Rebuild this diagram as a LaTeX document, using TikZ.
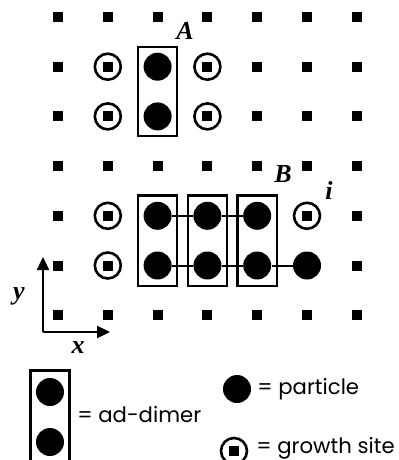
\documentclass[tikz,border=0pt]{standalone}
\usepackage{fontspec}
\setmainfont{Liberation Serif}
\newfontfamily\legendfont{Poppins}
\usetikzlibrary{arrows.meta,positioning,fit}

\begin{document}
\begin{tikzpicture}[
    x=0.5pt, y=-0.5pt,
    site/.style={rectangle, fill=black, minimum size=5pt, inner sep=0pt},
    particle/.style={circle, fill=black, minimum size=14pt, inner sep=0pt},
    growth/.style={circle, draw, line width=1.3pt, minimum size=13pt, inner sep=0pt},
    dimer/.style={rectangle, draw, line width=1.2pt, inner xsep=2.6pt, inner ysep=3pt},
    bond/.style={line width=1pt},
    axis/.style={line width=1.2pt, -{Triangle[length=6.5pt,width=6pt]}},
    letter/.style={font=\fontsize{13}{14}\selectfont\bfseries\itshape},
    legend/.style={font=\legendfont\fontsize{10.6}{12}\selectfont, inner sep=0pt}
]
\useasboundingbox (0,0) rectangle (399,460);

% lattice sites
\foreach \c in {0,...,6}
  \foreach \r in {0,...,6}
    \node[site] (s-\c-\r) at ({58+49.8*\c},{17+49.7*\r}) {};

% growth sites
\foreach \c/\r in {1/1,1/2,3/1,3/2,1/4,1/5,5/4}
  \node[growth] (g-\c-\r) at (s-\c-\r) {};

% particles
\foreach \c/\r in {2/1,2/2,2/4,3/4,4/4,2/5,3/5,4/5,5/5}
  \node[particle] (p-\c-\r) at (s-\c-\r) {};

% bonds
\draw[bond] (p-2-4) -- (p-3-4) -- (p-4-4);
\draw[bond] (p-2-5) -- (p-3-5) -- (p-4-5) -- (p-5-5);

% ad-dimers
\node[dimer, inner ysep=2.5pt, fit=(p-2-1)(p-2-2)] (dA) {};
\node[dimer, fit=(p-2-4)(p-2-5)] (dB1) {};
\node[dimer, fit=(p-3-4)(p-3-5)] (dB2) {};
\node[dimer, fit=(p-4-4)(p-4-5)] (dB3) {};

\node[letter] (lA) at (185,31) {A};
\node[letter] (lB) at (283,174) {B};
\node[letter] (li) at (329,190) {i};

% axes
\coordinate (origin) at (43,332);
\coordinate (yend) at (43,257);
\coordinate (xend) at (110,332);
\draw[axis] (origin) -- (yend);
\draw[axis] (origin) -- (xend);
\node[letter] (ly) at (19,296) {y};
\node[letter] (lx) at (78,348) {x};

% legend
\node[particle] (lp1) at (50,392) {};
\node[particle] (lp2) at (50,442) {};
\node[dimer, inner ysep=3.5pt, fit=(lp1)(lp2)] (ldimer) {};
\node[legend, anchor=west] (tdimer) at (77,415) {= ad-dimer};

\node[particle] (lpart) at (237,389) {};
\node[legend, anchor=west] (tpart) at (257,389) {= particle};

\node[site] (lsite) at (234,451) {};
\node[growth] (lgrowth) at (lsite) {};
\node[legend, anchor=west] (tgrowth) at (256,448) {= growth site};
\end{tikzpicture}
\end{document}
